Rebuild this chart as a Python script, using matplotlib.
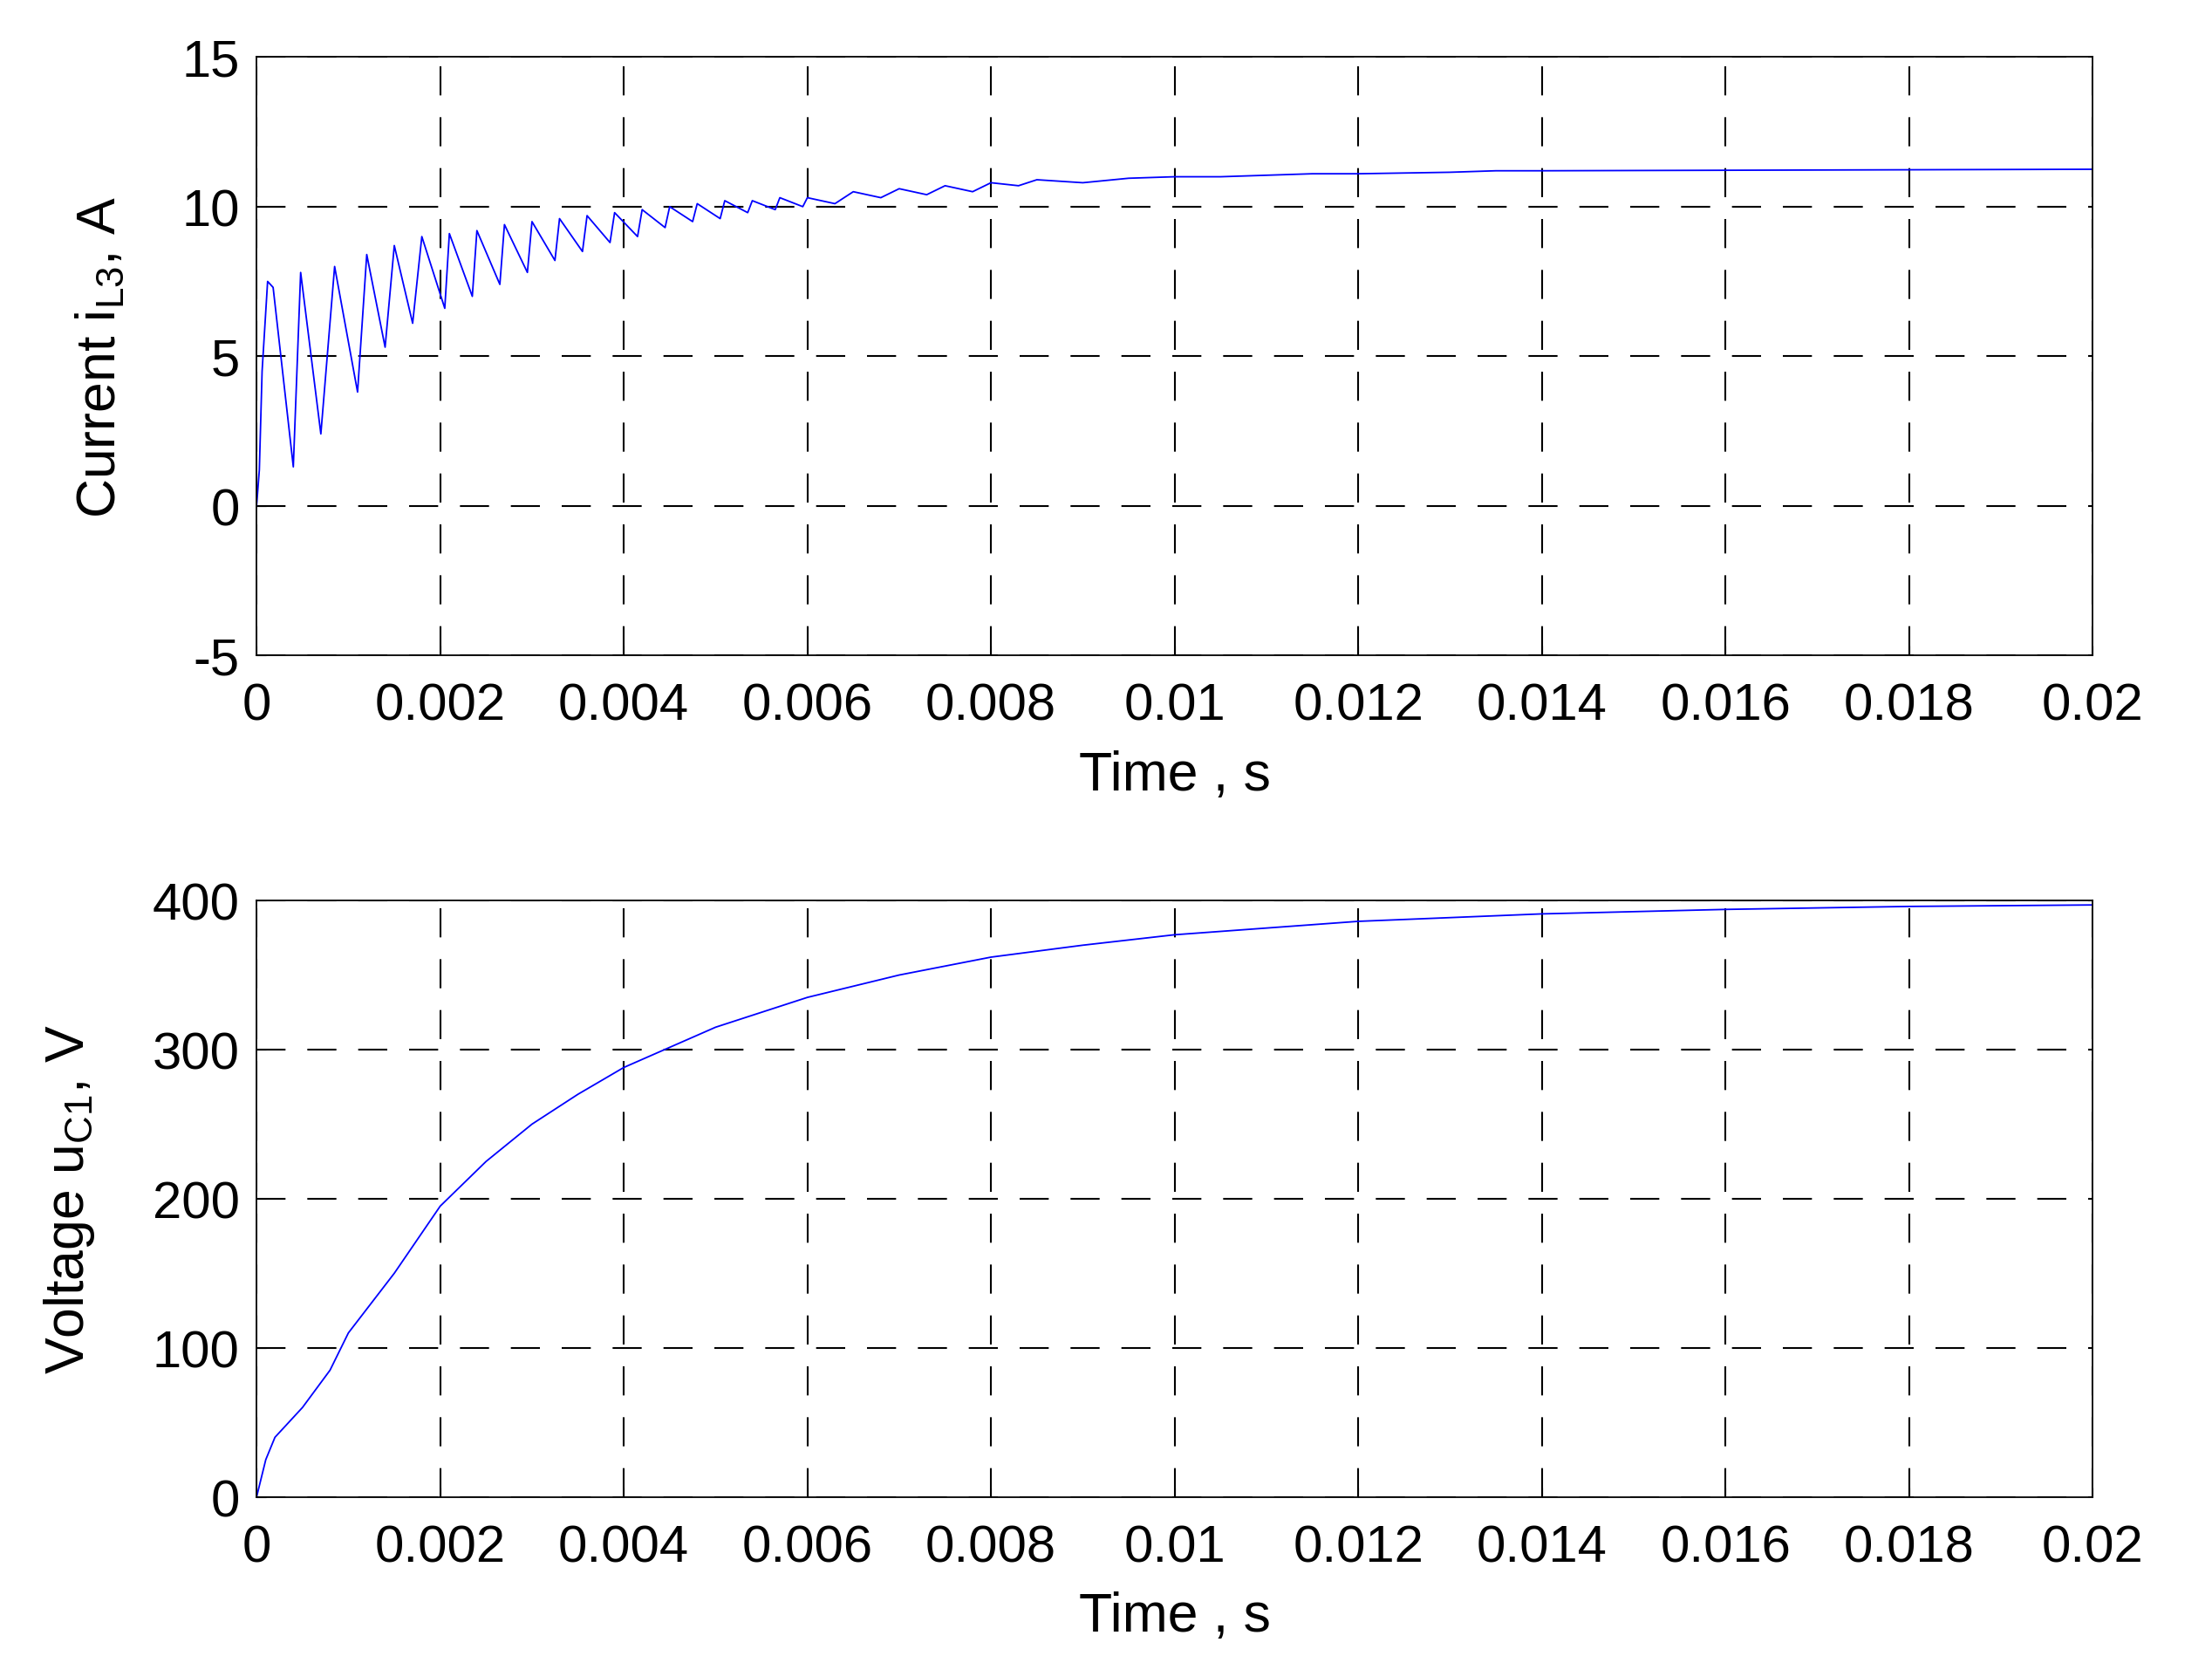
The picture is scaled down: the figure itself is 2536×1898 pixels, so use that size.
import matplotlib
matplotlib.use("Agg")
import matplotlib.pyplot as plt

plt.rcParams['font.family'] = ['Liberation Sans', 'DejaVu Sans']
plt.rcParams['axes.unicode_minus'] = False

# Current i_L3: alternating trough / peak readings
cur_t = [0, 0.00003, 0.00006, 0.00012, 0.00018, 0.0004, 0.00048, 0.0007, 0.00085, 0.0011, 0.0012,
         0.0014, 0.0015, 0.0017, 0.0018, 0.00205, 0.0021, 0.00235, 0.0024, 0.00265, 0.0027,
         0.00295, 0.003, 0.00325, 0.0033, 0.00355, 0.0036, 0.00385, 0.0039, 0.00415, 0.0042,
         0.00445, 0.0045, 0.00475, 0.0048, 0.00505, 0.0051, 0.00535, 0.0054, 0.00565, 0.0057,
         0.00595, 0.006, 0.0063, 0.0065, 0.0068, 0.007, 0.0073, 0.0075, 0.0078, 0.008,
         0.0083, 0.0085, 0.009, 0.0095, 0.01, 0.0105, 0.011, 0.0115, 0.012, 0.013, 0.0135, 0.014, 0.02]
cur_i = [0, 1.2, 4.5, 7.5, 7.3, 1.3, 7.8, 2.4, 8.0, 3.8, 8.4,
         5.3, 8.7, 6.1, 9.0, 6.6, 9.1, 7.0, 9.2, 7.4, 9.4,
         7.8, 9.5, 8.2, 9.6, 8.5, 9.7, 8.8, 9.8, 9.0, 9.9,
         9.3, 10.0, 9.5, 10.1, 9.6, 10.2, 9.8, 10.2, 9.9, 10.3,
         10.0, 10.3, 10.1, 10.5, 10.3, 10.6, 10.4, 10.7, 10.5, 10.8,
         10.7, 10.9, 10.8, 10.95, 11.0, 11.0, 11.05, 11.1, 11.1, 11.15, 11.2, 11.2, 11.25]

# Voltage u_C1
volt_t = [0, 0.0001, 0.0002, 0.0005, 0.0008, 0.001, 0.0015, 0.002, 0.0025, 0.003, 0.0035,
          0.004, 0.005, 0.006, 0.007, 0.008, 0.009, 0.01, 0.012, 0.014, 0.016, 0.018, 0.02]
volt_u = [0, 25, 40, 60, 85, 110, 150, 195, 225, 250, 270,
          288, 315, 335, 350, 362, 370, 377, 386, 391, 394, 396, 397]

xticks = [0, 0.002, 0.004, 0.006, 0.008, 0.01, 0.012, 0.014, 0.016, 0.018, 0.02]
xlabels = ['0', '0.002', '0.004', '0.006', '0.008', '0.01', '0.012', '0.014', '0.016', '0.018', '0.02']

fig = plt.figure(figsize=(25.36, 18.99), dpi=100)
ax1 = fig.add_axes([0.116, 0.604, 0.830, 0.361])
ax2 = fig.add_axes([0.116, 0.096, 0.830, 0.360])

ax1.plot(cur_t, cur_i, color='#0000ff', lw=1.3)
ax1.set_ylim(-5, 15)
ax1.set_yticks([-5, 0, 5, 10, 15])
ax1.set_ylabel('Current i$_{\\mathregular{L3}}$, A', fontsize=45, labelpad=46)

ax2.plot(volt_t, volt_u, color='#0000ff', lw=1.3)
ax2.set_ylim(0, 400)
ax2.set_yticks([0, 100, 200, 300, 400])
ax2.set_ylabel('Voltage u$_{\\mathregular{C1}}$, V', fontsize=45, labelpad=46)

for ax in (ax1, ax2):
    ax.set_xlim(0, 0.02)
    ax.set_xticks(xticks)
    ax.set_xticklabels(xlabels)
    ax.tick_params(axis='x', labelsize=43, direction='in', length=8, pad=22)
    ax.tick_params(axis='y', labelsize=43, direction='in', length=8, pad=14)
    ax.set_xlabel('Time , s', fontsize=45, labelpad=16)
    ax.grid(True, color='black', linestyle=(0, (16, 12)), lw=1.5)
    for s in ax.spines.values():
        s.set_linewidth(1.3)

fig.savefig('out.png', dpi=100)
